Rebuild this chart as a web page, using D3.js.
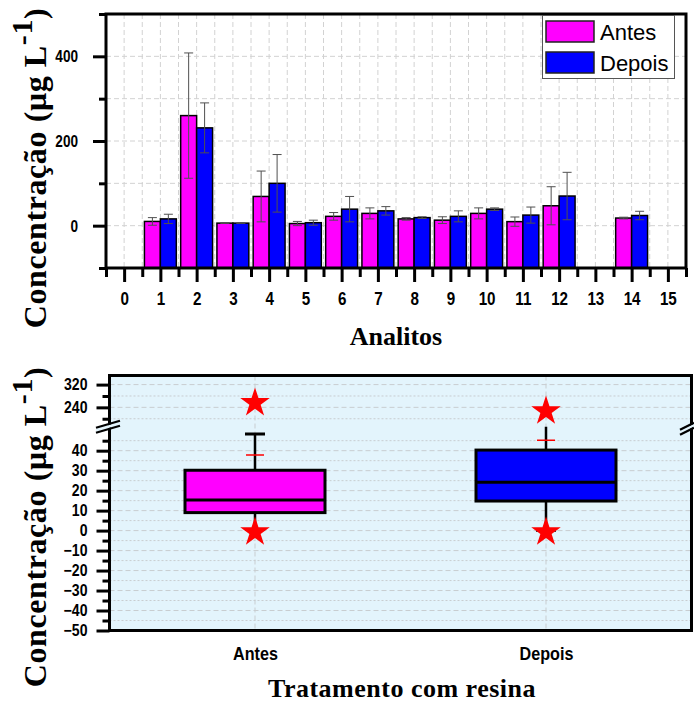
<!DOCTYPE html>
<html>
<head>
<meta charset="utf-8">
<script src="https://cdn.jsdelivr.net/npm/d3@7"></script>
<style>
  html, body { margin: 0; padding: 0; background: #fff; }
  svg { display: block; }
</style>
</head>
<body>
<svg id="chart" width="694" height="702"></svg>
<script>
// ---------------- DATA ----------------
// Top chart: bars per analyte
const categories = [0, 1, 2, 3, 4, 5, 6, 7, 8, 9, 10, 11, 12, 13, 14, 15];
const antesValues = [null, 10, 260, 6, 69, 5, 22, 29, 16, 13, 29, 9.5, 47, null, 18, null];
const antesErrors = [null, 9, 148, 0.5, 60, 5, 9, 13, 3, 8, 13, 11, 45, null, 2, null];
const depoisValues = [null, 16, 231, 6, 100, 7, 39, 35, 19, 22, 39, 25, 70, null, 24, null];
const depoisErrors = [null, 11, 59, 0.5, 68, 6, 30, 10, 2, 13, 3, 19, 56, null, 10, null];
const topYMajorTicks = [0, 200, 400];
const topYMinorTicks = [-100, 100, 300, 500];
const seriesNames = ["Antes", "Depois"];

// Bottom chart: box plot
const groups = ["Antes", "Depois"];
const boxQ1 = [9, 14.8];
const boxMedian = [15.3, 24.2];
const boxQ3 = [30.2, 40.3];
const whiskerLow = [0.5, 0.2];
const whiskerHigh = [48.3, 55];
const boxMean = [37.8, 45.2];
const boxMax = [261, 232];
const boxMin = [0, 0];
const lowMajorTicks = [-50, -40, -30, -20, -10, 0, 10, 20, 30, 40];
const lowMinorTicks = [-45, -35, -25, -15, -5, 5, 15, 25, 35, 45];
const highMajorTicks = [240, 320];
const highMinorTicks = [200, 280];

// ---------------- STYLE ----------------
const PINK = "#ff00ff", BLUE = "#0000ff";
const svg = d3.select("#chart");
const SANS = "'Liberation Sans', Arial, sans-serif";
const SERIF = "'Liberation Serif', 'Times New Roman', serif";

function condense(g, sx) {
  g.selectAll(".tick text").each(function () {
    const t = d3.select(this);
    const x = +t.attr("x") || 0;
    t.attr("transform", `translate(${x},0) scale(${sx},1)`).attr("x", 0);
  });
}
function styleAxis(g) {
  g.select(".domain").remove();
  g.selectAll(".tick line").attr("stroke", "#000").attr("stroke-width", 3);
}

// ================= TOP CHART =================
const T = { left: 106, right: 686, top: 14, bottom: 268 };
const xTop = d3.scaleLinear().domain([-0.5, 15.5]).range([T.left, T.right]);
const yTop = d3.scaleLinear().domain([-100, 500]).range([T.bottom, T.top]);
const barW = 0.44;

const topG = svg.append("g");
// gridlines
const halfSteps = d3.range(-0.5, 15.51, 0.5);
topG.append("g").selectAll("line").data(halfSteps).join("line")
  .attr("x1", d => xTop(d)).attr("x2", d => xTop(d))
  .attr("y1", T.top).attr("y2", T.bottom)
  .attr("stroke", "#d2d2d2").attr("stroke-width", 1).attr("stroke-dasharray", "5,3");
topG.append("g").selectAll("line").data([0, 100, 200, 300, 400]).join("line")
  .attr("x1", T.left).attr("x2", T.right)
  .attr("y1", d => yTop(d)).attr("y2", d => yTop(d))
  .attr("stroke", "#d2d2d2").attr("stroke-width", 1).attr("stroke-dasharray", "5,3");

// bars
const barData = [];
categories.forEach((c, i) => {
  if (antesValues[i] != null) barData.push({ c, v: antesValues[i], e: antesErrors[i], s: 0 });
  if (depoisValues[i] != null) barData.push({ c, v: depoisValues[i], e: depoisErrors[i], s: 1 });
});
topG.append("g").selectAll("rect").data(barData).join("rect")
  .attr("x", d => d.s === 0 ? xTop(d.c - barW) : xTop(d.c))
  .attr("width", xTop(barW) - xTop(0))
  .attr("y", d => yTop(d.v))
  .attr("height", d => yTop(-100) - yTop(d.v))
  .attr("fill", d => d.s === 0 ? PINK : BLUE)
  .attr("stroke", "#000").attr("stroke-width", 1.5);

// error bars
const eg = topG.append("g").attr("stroke", "#505050").attr("stroke-width", 1);
barData.forEach(d => {
  const cx = d.s === 0 ? xTop(d.c - barW / 2) : xTop(d.c + barW / 2);
  const y1 = yTop(d.v + d.e), y2 = yTop(d.v - d.e);
  eg.append("line").attr("x1", cx).attr("x2", cx).attr("y1", y1).attr("y2", y2);
  eg.append("line").attr("x1", cx - 4.5).attr("x2", cx + 4.5).attr("y1", y1).attr("y2", y1);
  eg.append("line").attr("x1", cx - 4.5).attr("x2", cx + 4.5).attr("y1", y2).attr("y2", y2);
});

// axes
const yTopAxis = topG.append("g").attr("transform", `translate(${T.left},0)`)
  .call(d3.axisLeft(yTop).tickValues(topYMajorTicks).tickSize(13).tickPadding(15));
styleAxis(yTopAxis);
yTopAxis.selectAll("text").attr("font-family", SANS).attr("font-weight", "bold").attr("font-size", 17).attr("fill", "#000");
condense(yTopAxis, 0.8);
const yTopMinor = topG.append("g").attr("transform", `translate(${T.left},0)`)
  .call(d3.axisLeft(yTop).tickValues(topYMinorTicks).tickSize(7).tickFormat(""));
styleAxis(yTopMinor);

const xTopAxis = topG.append("g").attr("transform", `translate(0,${T.bottom})`)
  .call(d3.axisBottom(xTop).tickValues(categories).tickSize(14).tickPadding(10).tickFormat(d3.format("d")));
styleAxis(xTopAxis);
xTopAxis.selectAll("text").attr("font-family", SANS).attr("font-weight", "bold").attr("font-size", 19).attr("fill", "#000");
condense(xTopAxis, 0.8);
const xTopMinor = topG.append("g").attr("transform", `translate(0,${T.bottom})`)
  .call(d3.axisBottom(xTop).tickValues(d3.range(-0.5, 15.51, 1)).tickSize(9).tickFormat(""));
styleAxis(xTopMinor);

// frame
topG.append("rect").attr("x", T.left).attr("y", T.top)
  .attr("width", T.right - T.left).attr("height", T.bottom - T.top)
  .attr("fill", "none").attr("stroke", "#000").attr("stroke-width", 3);

// legend
const lg = topG.append("g");
lg.append("rect").attr("x", 542.5).attr("y", 15.5).attr("width", 132).attr("height", 63)
  .attr("fill", "#fff").attr("stroke", "#555").attr("stroke-width", 1);
seriesNames.forEach((n, i) => {
  lg.append("rect").attr("x", 546).attr("y", 21 + i * 31).attr("width", 48).attr("height", 21)
    .attr("fill", i === 0 ? PINK : BLUE).attr("stroke", "#222").attr("stroke-width", 1.5);
  lg.append("text").attr("x", 600).attr("y", 40 + i * 31).text(n)
    .attr("font-family", SANS).attr("font-size", 22).attr("fill", "#000");
});

// titles
function yTitle(cx, cy) {
  const t = svg.append("text").attr("transform", `translate(${cx},${cy}) rotate(-90)`)
    .attr("text-anchor", "middle").attr("font-family", SERIF).attr("font-weight", "bold")
    .attr("font-size", 32).attr("letter-spacing", 0.6).attr("fill", "#000");
  t.append("tspan").text("Concentração (μg L");
  t.append("tspan").attr("dy", -14).attr("font-size", 30).text("-1");
  t.append("tspan").attr("dy", 14).text(")");
}
yTitle(46, 168);
svg.append("text").attr("x", 396).attr("y", 345).attr("text-anchor", "middle")
  .attr("font-family", SERIF).attr("font-weight", "bold").attr("font-size", 26).attr("fill", "#000")
  .text("Analitos");

// ================= BOTTOM CHART =================
const B = { left: 109.5, right: 691.5, top: 375.5, bottom: 630.5, brk: 426.7 };
const xBox = d3.scalePoint().domain(groups).range([B.left, B.right]).padding(0.5);
const yLow = d3.scaleLinear().domain([-50, 52]).range([B.bottom, B.brk]);
const yHigh = d3.scaleLinear().domain([172, 352]).range([B.brk, B.top]);
const bot = svg.append("g");

bot.append("rect").attr("x", B.left).attr("y", B.top)
  .attr("width", B.right - B.left).attr("height", B.bottom - B.top).attr("fill", "#e3f4fc");

// gridlines
function hGrid(scale, vals, dash) {
  bot.append("g").selectAll("line").data(vals).join("line")
    .attr("x1", B.left).attr("x2", B.right)
    .attr("y1", d => scale(d)).attr("y2", d => scale(d))
    .attr("stroke", "#c8cdd0").attr("stroke-width", 1).attr("stroke-dasharray", dash);
}
hGrid(yLow, lowMajorTicks, "5,3");
hGrid(yLow, lowMinorTicks, "2,2");
hGrid(yHigh, highMajorTicks, "5,3");
hGrid(yHigh, highMinorTicks, "2,2");
bot.append("g").selectAll("line").data(groups).join("line")
  .attr("x1", d => xBox(d)).attr("x2", d => xBox(d))
  .attr("y1", B.top).attr("y2", B.bottom)
  .attr("stroke", "#c8cdd0").attr("stroke-width", 1).attr("stroke-dasharray", "5,3");

// clip for lower segment
svg.append("defs").append("clipPath").attr("id", "lowclip")
  .append("rect").attr("x", B.left).attr("y", B.brk).attr("width", B.right - B.left).attr("height", B.bottom - B.brk);
const boxG = bot.append("g").attr("clip-path", "url(#lowclip)");
const boxW = 140, capW = 20;
groups.forEach((g, i) => {
  const cx = xBox(g);
  boxG.append("line").attr("x1", cx).attr("x2", cx).attr("y1", yLow(boxQ3[i])).attr("y2", yLow(whiskerHigh[i]))
    .attr("stroke", "#000").attr("stroke-width", 2.5);
  boxG.append("line").attr("x1", cx).attr("x2", cx).attr("y1", yLow(boxQ1[i])).attr("y2", yLow(whiskerLow[i]))
    .attr("stroke", "#000").attr("stroke-width", 2.5);
  boxG.append("line").attr("x1", cx - capW / 2).attr("x2", cx + capW / 2)
    .attr("y1", yLow(whiskerHigh[i])).attr("y2", yLow(whiskerHigh[i])).attr("stroke", "#000").attr("stroke-width", 3);
  boxG.append("line").attr("x1", cx - capW / 2).attr("x2", cx + capW / 2)
    .attr("y1", yLow(whiskerLow[i])).attr("y2", yLow(whiskerLow[i])).attr("stroke", "#000").attr("stroke-width", 3);
  boxG.append("rect").attr("x", cx - boxW / 2).attr("width", boxW)
    .attr("y", yLow(boxQ3[i])).attr("height", yLow(boxQ1[i]) - yLow(boxQ3[i]))
    .attr("fill", i === 0 ? PINK : BLUE).attr("stroke", "#000").attr("stroke-width", 3);
  boxG.append("line").attr("x1", cx - boxW / 2).attr("x2", cx + boxW / 2)
    .attr("y1", yLow(boxMedian[i])).attr("y2", yLow(boxMedian[i])).attr("stroke", "#000").attr("stroke-width", 3);
  boxG.append("line").attr("x1", cx - 9).attr("x2", cx + 9)
    .attr("y1", yLow(boxMean[i])).attr("y2", yLow(boxMean[i])).attr("stroke", "#ff0000").attr("stroke-width", 1.5);
});
// stars
const star = d3.symbol().type(d3.symbolStar).size(270);
groups.forEach((g, i) => {
  bot.append("path").attr("d", star).attr("fill", "#ff0000")
    .attr("transform", `translate(${xBox(g)},${yHigh(boxMax[i]) + 1.5})`);
  bot.append("path").attr("d", star).attr("fill", "#ff0000")
    .attr("transform", `translate(${xBox(g)},${yLow(boxMin[i]) + 1.5})`);
});

// axes
function leftAxis(scale, majors, minors) {
  const a = bot.append("g").attr("transform", `translate(${B.left},0)`)
    .call(d3.axisLeft(scale).tickValues(majors).tickSize(13).tickPadding(9));
  styleAxis(a);
  a.selectAll("text").attr("font-family", SANS).attr("font-weight", "bold").attr("font-size", 16).attr("fill", "#000");
  condense(a, 0.88);
  const m = bot.append("g").attr("transform", `translate(${B.left},0)`)
    .call(d3.axisLeft(scale).tickValues(minors).tickSize(7).tickFormat(""));
  styleAxis(m);
}
leftAxis(yLow, lowMajorTicks, lowMinorTicks);
leftAxis(yHigh, highMajorTicks, highMinorTicks);

const xBoxAxis = bot.append("g").attr("transform", `translate(0,${B.bottom})`)
  .call(d3.axisBottom(xBox).tickSize(0).tickPadding(16));
xBoxAxis.select(".domain").remove();
xBoxAxis.selectAll("text").attr("font-family", SANS).attr("font-weight", "bold").attr("font-size", 19).attr("fill", "#000");
condense(xBoxAxis, 0.85);

// frame
bot.append("rect").attr("x", B.left).attr("y", B.top)
  .attr("width", B.right - B.left).attr("height", B.bottom - B.top)
  .attr("fill", "none").attr("stroke", "#000").attr("stroke-width", 3);

// break marks
function breakMark(x1, x2, yc) {
  const g = bot.append("g");
  const slope = -7 / (x2 - x1);
  const yAt = x => yc + (x - (x1 + x2) / 2) * slope;
  g.append("path").attr("d", `M${x1},${yAt(x1) - 1.5}L${x2},${yAt(x2) - 1.5}L${x2},${yAt(x2) + 1.5}L${x1},${yAt(x1) + 1.5}Z`)
    .attr("fill", "#e3f4fc");
  [-2.5, 2.5].forEach(o => g.append("line").attr("x1", x1).attr("x2", x2)
    .attr("y1", yAt(x1) + o).attr("y2", yAt(x2) + o).attr("stroke", "#000").attr("stroke-width", 2.2));
}
breakMark(96, 120, B.brk);
breakMark(680, 694, B.brk + 2);

yTitle(46, 527);
svg.append("text").attr("x", 402).attr("y", 697).attr("text-anchor", "middle")
  .attr("font-family", SERIF).attr("font-weight", "bold").attr("font-size", 26).attr("letter-spacing", 0.5)
  .attr("fill", "#000")
  .text("Tratamento com resina");
</script>
</body>
</html>
